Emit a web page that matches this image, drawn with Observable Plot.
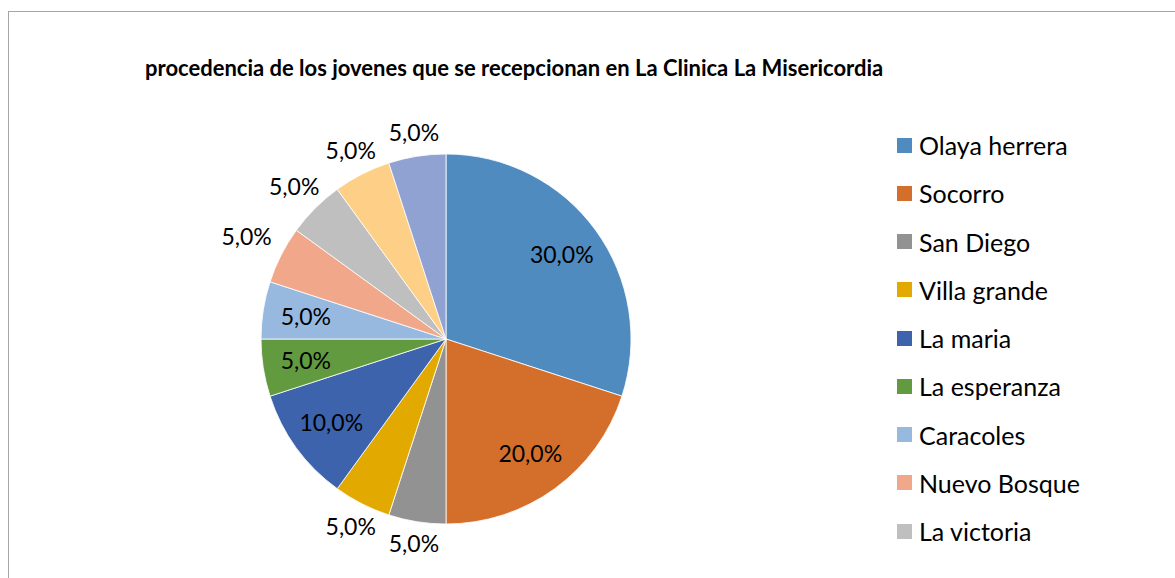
<!DOCTYPE html>
<html><head><meta charset="utf-8">
<script src="https://cdn.jsdelivr.net/npm/d3@7"></script>
<script src="https://cdn.jsdelivr.net/npm/@observablehq/plot@0.6"></script>
<style>
html,body{margin:0;padding:0;background:#fff;overflow:hidden;}
#wrap{position:relative;width:1175px;height:578px;overflow:hidden;font-family:Lato,"Noto Sans",sans-serif;}
#frame{position:absolute;left:8px;top:11px;width:1300px;height:700px;border:1px solid #a6a6a6;box-sizing:border-box;}
#title{position:absolute;left:145px;top:55px;font-weight:bold;font-size:22px;color:#000;white-space:nowrap;line-height:26px;}
#pie{position:absolute;left:0;top:0;}
#legend{position:absolute;left:897px;top:121px;}
div.leg-swatches-columns div.leg-swatch{height:48.25px;padding:0;margin:0;display:flex;align-items:center;}
div.leg-swatches-columns div.leg-swatch svg{margin-right:7px;flex-shrink:0;}
div.leg-swatches-columns .leg-swatch-label{font-size:25px;color:#000;font-family:Lato,"Noto Sans",sans-serif;overflow:visible;}
</style>
</head><body>
<div id="wrap">
  <div id="frame"></div>
  <div id="pie"></div>
  <div id="title"></div>
  <div id="legend"></div>
</div>
<script>
const titleText = "procedencia de los jovenes que se recepcionan en La Clinica La Misericordia";
const categories = ["Olaya herrera","Socorro","San Diego","Villa grande","La maria","La esperanza","Caracoles","Nuevo Bosque","La victoria","Otro 1","Otro 2"];
const percents = [30,20,5,5,10,5,5,5,5,5,5];
const colors = ["#4f8bbf","#d46f2b","#929292","#e2a900","#3c63ac","#629b3f","#97b9e0","#f1a88a","#bfbfbf","#fecf86","#8fa2d2"];
const legendShown = 9;

document.getElementById("title").textContent = titleText;

const data = categories.map((name, i) => ({name, value: percents[i]}));
const arcs = d3.pie().sort(null).value(d => d.value)(data);

// geometry (pixels)
const W = 1175, H = 578, CX = 446, CY = 339, R = 185;
const fmt = v => v.toFixed(1).replace(".", ",") + "%";

// decide label placement: inside if text box fits in wedge
const boxW = 50 / R, boxH = 20 / R, marg = 5 / R, rhoIn = 0.77;
function fits(a) {
  const mid = (a.startAngle + a.endAngle) / 2;
  const x0 = rhoIn * Math.sin(mid), y0 = rhoIn * Math.cos(mid);
  for (const dx of [-boxW/2, boxW/2]) for (const dy of [-boxH/2, boxH/2]) {
    const x = x0 + dx, y = y0 + dy;
    const r = Math.hypot(x, y);
    if (r > 1 - marg) return false;
    let ang = Math.atan2(x, y); if (ang < 0) ang += 2 * Math.PI;
    const d1 = (ang - a.startAngle), d2 = (a.endAngle - ang);
    if (d1 < 0 || d2 < 0) return false;
    if (r * Math.sin(Math.min(d1, d2)) < marg) return false;
  }
  return true;
}
const labels = arcs.map(a => {
  const mid = (a.startAngle + a.endAngle) / 2;
  const s = Math.sin(mid), c = Math.cos(mid);
  let rho;
  if (fits(a)) rho = rhoIn;
  else rho = (R + 12 + Math.min(25 / Math.abs(s || 1e-9), 10 / Math.abs(c || 1e-9)) + Math.abs(s) * 6) / R;
  return {name: a.data.name, text: fmt(a.data.value), x: rho * s, y: rho * c};
});

const pieMark = (index, scales) => {
  const cx = scales.x(0), cy = scales.y(0), rr = scales.x(1) - scales.x(0);
  const arc = d3.arc().innerRadius(0).outerRadius(rr);
  const g = d3.create("svg:g").attr("transform", `translate(${cx},${cy})`);
  g.selectAll("path").data(arcs).join("path")
    .attr("d", arc)
    .attr("fill", d => scales.color(d.data.name))
    .attr("stroke", "#ffffff").attr("stroke-width", 0.8).attr("stroke-linejoin", "round");
  return g.node();
};

const colorScale = {domain: categories, range: colors};

const chart = Plot.plot({
  width: W, height: H,
  margin: 0,
  style: {background: "transparent", overflow: "visible"},
  x: {domain: [-CX / R, (W - CX) / R], axis: null},
  y: {domain: [-(H - CY) / R, CY / R], axis: null},
  color: colorScale,
  marks: [
    Plot.dot(data, {x: () => 0, y: () => 0, fill: "name", r: 0}),
    pieMark,
    Plot.text(labels, {x: "x", y: "y", text: "text", fill: "#000", fontSize: 23, fontFamily: "Lato, 'Noto Sans', sans-serif", textAnchor: "middle", lineAnchor: "middle"})
  ]
});
document.getElementById("pie").appendChild(chart);

const legend = Plot.legend({
  color: {domain: categories.slice(0, legendShown), range: colors.slice(0, legendShown)},
  legend: "swatches",
  columns: 1,
  swatchSize: 15,
  className: "leg",
  style: {fontSize: "25px", fontFamily: "Lato, 'Noto Sans', sans-serif", margin: 0}
});
document.getElementById("legend").appendChild(legend);
</script>
</body></html>
